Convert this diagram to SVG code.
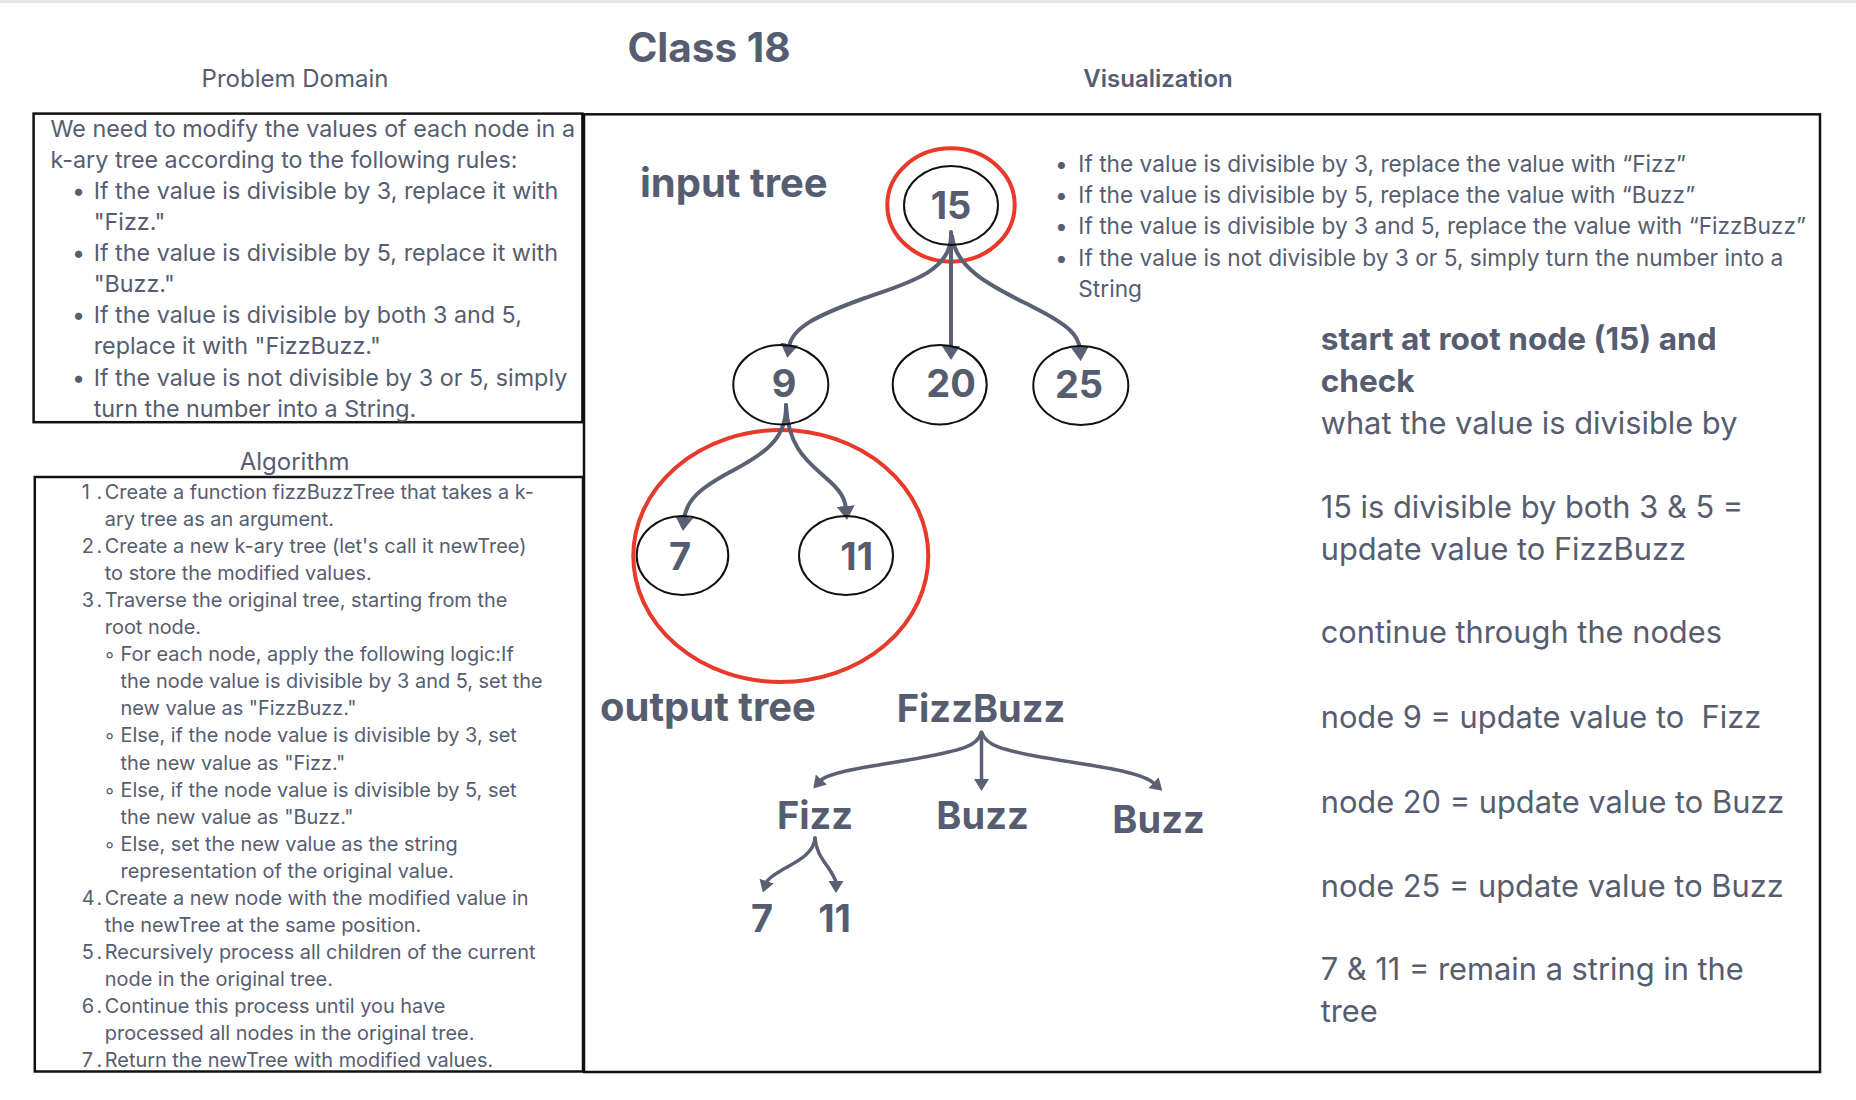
<svg xmlns="http://www.w3.org/2000/svg" width="1856" height="1100" viewBox="0 0 1856 1100">
<defs>
<style>
text{font-family:Inter,"Liberation Sans",sans-serif;fill:#565d70}
.pd{font-size:23.3px}
.hd{font-size:24px}
.alg{font-size:19.9px}
.bul{font-size:22.7px}
.rt{font-size:30.8px}
.b{font-weight:700}
.rb{font-weight:700;font-size:31.6px}
.big{font-size:38px;font-weight:700}
.lbl{font-size:40px;font-weight:700}
.box{fill:none;stroke:#111;stroke-width:2.5}
.nd{fill:none;stroke:#111;stroke-width:2}
.red{fill:none;stroke:#e8392b;stroke-width:4}
.c1{fill:none;stroke:#5a6174;stroke-width:4;stroke-linecap:round}
.c2{fill:none;stroke:#5a6174;stroke-width:3.5;stroke-linecap:round}
.mid{text-anchor:middle}
</style>
<marker id="ah" viewBox="0 0 14 18" markerWidth="14" markerHeight="18" refX="3" refY="9" orient="auto" markerUnits="userSpaceOnUse"><path d="M0,0 L14,9 L0,18 Z" fill="#5a6174"/></marker>
<marker id="ah2" viewBox="0 0 12 15" markerWidth="12" markerHeight="15" refX="2" refY="7.5" orient="auto" markerUnits="userSpaceOnUse"><path d="M0,0 L12,7.5 L0,15 Z" fill="#5a6174"/></marker>
</defs>
<rect x="0" y="0" width="1856" height="1100" fill="#ffffff"/>
<rect x="0" y="0" width="1856" height="3" fill="#e6e6e6"/>

<g id="headers">
<text x="709" y="61.5" class="mid b" style="font-size:40.5px">Class 18</text>
<text x="295" y="87" class="hd mid">Problem Domain</text>
<text x="1158" y="86.5" class="hd mid" style="font-weight:600">Visualization</text>
<text x="294.6" y="469.5" class="hd mid">Algorithm</text>
</g>

<g id="boxes">
<rect x="33.6" y="113.6" width="548.8" height="308.6" class="box"/>
<rect x="584" y="114.3" width="1236" height="957.7" class="box"/>
<rect x="34.8" y="477" width="548.2" height="594.5" class="box"/>
</g>

<g id="problem-domain" class="pd">
<text x="50.6" y="136.7">We need to modify the values of each node in a</text>
<text x="50.6" y="167.8">k-ary tree according to the following rules:</text>
<text x="72" y="198.9">•</text><text x="93.7" y="198.9">If the value is divisible by 3, replace it with</text>
<text x="93.7" y="230">"Fizz."</text>
<text x="72" y="261.1">•</text><text x="93.7" y="261.1">If the value is divisible by 5, replace it with</text>
<text x="93.7" y="292.2">"Buzz."</text>
<text x="72" y="323.3">•</text><text x="93.7" y="323.3">If the value is divisible by both 3 and 5,</text>
<text x="93.7" y="354.4">replace it with "FizzBuzz."</text>
<text x="72" y="385.5">•</text><text x="93.7" y="385.5">If the value is not divisible by 3 or 5, simply</text>
<text x="93.7" y="416.6">turn the number into a String.</text>
</g>

<g id="algorithm" class="alg">
<text x="81.8" y="499">1<tspan x="96.5">.</tspan></text><text x="104.8" y="499">Create a function fizzBuzzTree that takes a k-</text>
<text x="104.8" y="526">ary tree as an argument.</text>
<text x="81.8" y="553.1">2<tspan x="96.5">.</tspan></text><text x="104.8" y="553.1">Create a new k-ary tree (let's call it newTree)</text>
<text x="104.8" y="580.1">to store the modified values.</text>
<text x="81.8" y="607.2">3<tspan x="96.5">.</tspan></text><text x="104.8" y="607.2">Traverse the original tree, starting from the</text>
<text x="104.8" y="634.2">root node.</text>
<text x="104" y="661.3">◦</text><text x="120.6" y="661.3">For each node, apply the following logic:If</text>
<text x="120.6" y="688.3">the node value is divisible by 3 and 5, set the</text>
<text x="120.6" y="715.4">new value as "FizzBuzz."</text>
<text x="104" y="742.4">◦</text><text x="120.6" y="742.4">Else, if the node value is divisible by 3, set</text>
<text x="120.6" y="769.5">the new value as "Fizz."</text>
<text x="104" y="796.5">◦</text><text x="120.6" y="796.5">Else, if the node value is divisible by 5, set</text>
<text x="120.6" y="823.6">the new value as "Buzz."</text>
<text x="104" y="850.6">◦</text><text x="120.6" y="850.6">Else, set the new value as the string</text>
<text x="120.6" y="877.7">representation of the original value.</text>
<text x="81.8" y="904.7">4<tspan x="96.5">.</tspan></text><text x="104.8" y="904.7">Create a new node with the modified value in</text>
<text x="104.8" y="931.8">the newTree at the same position.</text>
<text x="81.8" y="958.8">5<tspan x="96.5">.</tspan></text><text x="104.8" y="958.8">Recursively process all children of the current</text>
<text x="104.8" y="985.9">node in the original tree.</text>
<text x="81.8" y="1012.9">6<tspan x="96.5">.</tspan></text><text x="104.8" y="1012.9">Continue this process until you have</text>
<text x="104.8" y="1040">processed all nodes in the original tree.</text>
<text x="81.8" y="1067">7<tspan x="96.5">.</tspan></text><text x="104.8" y="1067">Return the newTree with modified values.</text>
</g>

<g id="rules" class="bul">
<text x="1055" y="171.7">•</text><text x="1078.3" y="171.7">If the value is divisible by 3, replace the value with “Fizz”</text>
<text x="1055" y="203">•</text><text x="1078.3" y="203">If the value is divisible by 5, replace the value with “Buzz”</text>
<text x="1055" y="234.3">•</text><text x="1078.3" y="234.3">If the value is divisible by 3 and 5, replace the value with “FizzBuzz”</text>
<text x="1055" y="265.6">•</text><text x="1078.3" y="265.6">If the value is not divisible by 3 or 5, simply turn the number into a</text>
<text x="1078.3" y="296.9">String</text>
</g>

<g id="explanation" class="rt">
<text x="1320.7" y="350" class="rb">start at root node (15) and</text>
<text x="1320.7" y="391.7" class="rb">check</text>
<text x="1320.7" y="434">what the value is divisible by</text>
<text x="1320.7" y="518.3">15 is divisible by both 3 &amp; 5 =</text>
<text x="1320.7" y="560">update value to FizzBuzz</text>
<text x="1320.7" y="643.3">continue through the nodes</text>
<text x="1320.7" y="728.3" xml:space="preserve">node 9 = update value to  Fizz</text>
<text x="1320.7" y="812.7">node 20 = update value to Buzz</text>
<text x="1320.7" y="896.7">node 25 = update value to Buzz</text>
<text x="1320.7" y="980">7 &amp; 11 = remain a string in the</text>
<text x="1320.7" y="1021.7">tree</text>
</g>

<g id="labels">
<text x="640" y="196.7" class="lbl">input tree</text>
<text x="600" y="721" class="lbl">output tree</text>
</g>

<g id="highlights">
<ellipse cx="951" cy="205" rx="63.7" ry="56.7" class="red"/>
<ellipse cx="780.8" cy="556" rx="147.5" ry="126" class="red"/>
</g>

<g id="connectors">
<path d="M951 236 C951 272 905 284 865 298 C815 316 792 328 789 347" class="c1" marker-end="url(#ah)"/>
<path d="M951 232 L951 349" class="c1" marker-end="url(#ah)"/>
<path d="M952 236 C956 272 1000 290 1035 308 C1068 325 1079 335 1080 350" class="c1" marker-end="url(#ah)"/>
<path d="M786 405 C787 440 762 455 732 471 C700 488 686 500 684 520" class="c1" marker-end="url(#ah)"/>
<path d="M786 405 C788 448 808 462 826 478 C840 490 845 498 846 509" class="c1" marker-end="url(#ah)"/>
<path d="M981 733 C978 746 960 750 930 756 C885 765 830 770 820 781" class="c2" marker-end="url(#ah2)"/>
<path d="M981.5 732 L981.5 781" class="c2" marker-end="url(#ah2)"/>
<path d="M982 733 C986 746 1005 750 1035 756 C1085 765 1140 770 1155 784" class="c2" marker-end="url(#ah2)"/>
<path d="M815 838 C814 854 796 862 782 870 C770 877 767 880 766 883" class="c2" marker-end="url(#ah2)"/>
<path d="M815 838 C816 854 826 863 831 872 C834 877 836 880 836 883" class="c2" marker-end="url(#ah2)"/>
</g>

<g id="node-15"><ellipse cx="951" cy="205.5" rx="47" ry="39.5" class="nd"/><text x="951" y="219" class="big mid">15</text></g>
<g id="node-9"><ellipse cx="780.8" cy="384.7" rx="47.5" ry="39.7" class="nd"/><text x="784" y="396.7" class="big mid">9</text></g>
<g id="node-20"><ellipse cx="939.7" cy="384.7" rx="47" ry="39.7" class="nd"/><text x="951" y="396.7" class="big mid">20</text></g>
<g id="node-25"><ellipse cx="1080.8" cy="385.5" rx="47.5" ry="39.5" class="nd"/><text x="1079" y="398" class="big mid">25</text></g>
<g id="node-7"><ellipse cx="682.5" cy="555.5" rx="45.8" ry="39.5" class="nd"/><text x="680" y="570" class="big mid">7</text></g>
<g id="node-11"><ellipse cx="846" cy="555.5" rx="47" ry="39.5" class="nd"/><text x="856.7" y="570" class="big mid">11</text></g>

<g id="out-fizzbuzz"><text x="981" y="721.7" class="big mid">FizzBuzz</text></g>
<g id="out-fizz"><text x="815" y="829" class="big mid">Fizz</text></g>
<g id="out-buzz-20"><text x="982.5" y="829" class="big mid">Buzz</text></g>
<g id="out-buzz-25"><text x="1158.5" y="833.3" class="big mid">Buzz</text></g>
<g id="out-7"><text x="762" y="931.7" class="big mid">7</text></g>
<g id="out-11"><text x="834.6" y="931.7" class="big mid">11</text></g>
</svg>
